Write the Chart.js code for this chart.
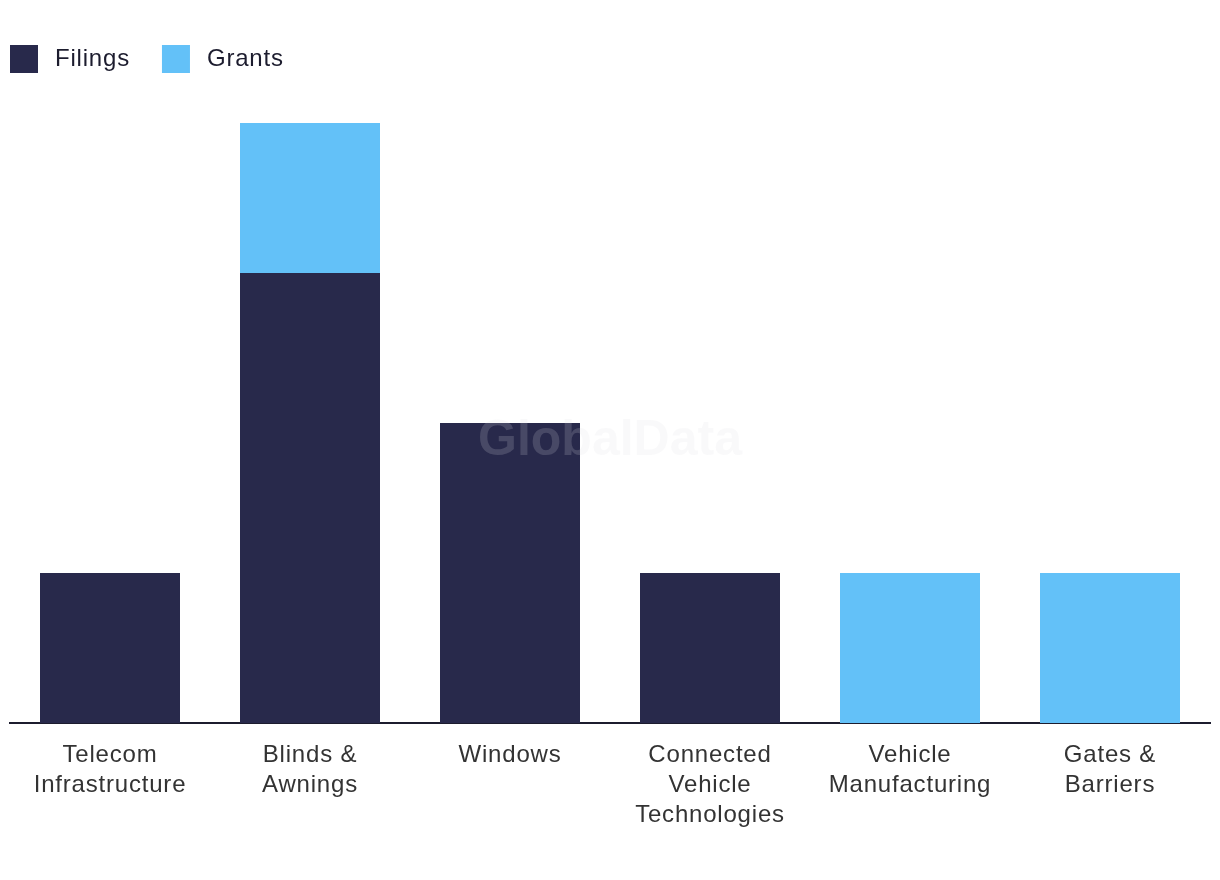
<!DOCTYPE html>
<html>
<head>
<meta charset="utf-8">
<script src="https://cdn.jsdelivr.net/npm/chart.js@4/dist/chart.umd.min.js"></script>
<style>
html,body{margin:0;padding:0;background:#fff;}
#wrap{width:1220px;height:880px;position:relative;}
</style>
</head>
<body>
<div id="wrap"><canvas id="c" width="1220" height="880"></canvas></div>
<script>
const categories = [
  ["Telecom", "Infrastructure"],
  ["Blinds &", "Awnings"],
  ["Windows"],
  ["Connected", "Vehicle", "Technologies"],
  ["Vehicle", "Manufacturing"],
  ["Gates &", "Barriers"]
];
const filings = [1, 3, 2, 1, null, null];
const grants = [null, 1, null, null, 1, 1];
const seriesNames = ["Filings", "Grants"];
const yMax = 4;

const NAVY = "#28294b";
const BLUE = "#63c1f8";
const FONT = "'Liberation Sans', Arial, sans-serif";
const SPACING = "0.8px";

const spacingPlugin = {
  id: "spacing",
  beforeUpdate(chart) { chart.ctx.letterSpacing = SPACING; },
  beforeDraw(chart) { chart.ctx.letterSpacing = SPACING; }
};

const legendPlugin = {
  id: "customLegend",
  afterDraw(chart) {
    const ctx = chart.ctx;
    ctx.save();
    ctx.letterSpacing = SPACING;
    ctx.font = "24px " + FONT;
    ctx.textBaseline = "middle";
    let x = 10;
    chart.data.datasets.forEach(ds => {
      ctx.fillStyle = ds.backgroundColor;
      ctx.fillRect(x, 45, 28, 28);
      ctx.fillStyle = "#1c1c2e";
      ctx.fillText(ds.label, x + 45, 59);
      x += 45 + ctx.measureText(ds.label).width + 32;
    });
    ctx.restore();
  }
};

const watermark = {
  id: "watermark",
  afterDatasetsDraw(chart) {
    const ctx = chart.ctx;
    ctx.save();
    ctx.letterSpacing = "0px";
    ctx.font = "bold 50px " + FONT;
    ctx.fillStyle = "rgba(220,220,225,0.18)";
    ctx.textAlign = "center";
    ctx.textBaseline = "middle";
    ctx.fillText("GlobalData", 610, 441);
    ctx.restore();
  }
};

new Chart(document.getElementById("c"), {
  type: "bar",
  data: {
    labels: categories,
    datasets: [
      { label: seriesNames[0], data: filings, backgroundColor: NAVY },
      { label: seriesNames[1], data: grants, backgroundColor: BLUE }
    ]
  },
  options: {
    responsive: false,
    animation: false,
    layout: { padding: { left: 10, right: 10, top: 123, bottom: 33 } },
    datasets: { bar: { barPercentage: 0.7, categoryPercentage: 1.0 } },
    plugins: { legend: { display: false }, tooltip: { enabled: false } },
    scales: {
      x: {
        stacked: true,
        grid: { display: false, drawTicks: false },
        border: { display: true, color: "#1c1c2e", width: 2 },
        ticks: {
          color: "#333333",
          font: { family: FONT, size: 24, lineHeight: 1.25 },
          padding: 17,
          maxRotation: 0,
          autoSkip: false
        }
      },
      y: {
        stacked: true,
        display: false,
        min: 0,
        max: yMax
      }
    }
  },
  plugins: [spacingPlugin, legendPlugin, watermark]
});
</script>
</body>
</html>
